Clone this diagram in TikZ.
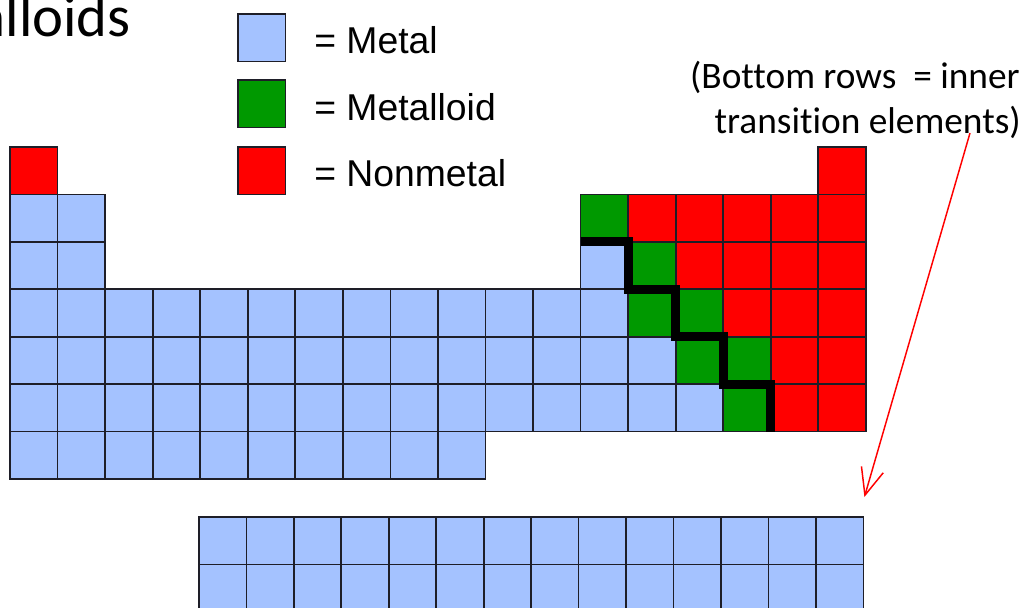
\documentclass[tikz,border=0pt]{standalone}
\usepackage{fontspec}
\newfontfamily\calfont[Ligatures=NoCommon]{Carlito}
\newfontfamily\arialfont{Liberation Sans}
\usetikzlibrary{arrows.meta,calc}
\definecolor{metalblue}{RGB}{164,194,255}
\definecolor{metalloidgreen}{RGB}{0,153,0}
\definecolor{nonmetalred}{RGB}{255,0,0}
\definecolor{celledge}{RGB}{30,30,40}
\newcommand{\elem}[3]{\node[#3] (c-#1-#2) at ({10+(#2-1)*47.55},{147+(#1-1)*47.43}) {};}

\begin{document}
\begin{tikzpicture}[x=0.75pt,y=-0.75pt,
  cell/.style={draw=celledge, line width=1.3pt, minimum width=35.66pt,
    minimum height=35.57pt, inner sep=0pt, outer sep=0pt, anchor=north west},
  metal/.style={cell, fill=metalblue},
  metalloid/.style={cell, fill=metalloidgreen},
  nonmetal/.style={cell, fill=nonmetalred},
  legendlabel/.style={font=\arialfont\fontsize{28}{32}\selectfont,
    anchor=base west, inner sep=0pt},
  note/.style={font=\calfont\fontsize{28}{33}\selectfont,
    anchor=base east, inner sep=0pt},
  divider/.style={line width=6.9pt, line join=miter},
  pointer/.style={draw=red, line width=1.1pt,
    -{Straight Barb[length=20pt,width=17pt,line width=1.1pt]}}
]
\clip (0,0) rectangle (1024,607);

% title
\node[font=\calfont\fontsize{44}{50}\selectfont, anchor=base east, inner sep=0pt]
  (title) at (131,36) {Metalloids};

% legend
\node[metal]     (keyM)  at (238,14)  {};
\node[metalloid] (keyML) at (238,80)  {};
\node[nonmetal]  (keyN)  at (238,147) {};
\node[legendlabel] (labM)  at (314,53)  {= Metal};
\node[legendlabel] (labML) at (314,120) {= Metalloid};
\node[legendlabel] (labN)  at (314,186) {= Nonmetal};

% note on the lower block
\node[note] (note1) at (1020,88)  {(Bottom rows\ \ = inner};
\node[note] (note2) at (1021,133) {transition elements)};

% main table
% period 1
\elem{1}{1}{nonmetal}
\elem{1}{18}{nonmetal}
% periods 2 and 3
\foreach \r in {2,3}{
  \foreach \c in {1,2}{\elem{\r}{\c}{metal}}
}
\elem{2}{13}{metalloid}
\foreach \c in {14,...,18}{\elem{2}{\c}{nonmetal}}
\elem{3}{13}{metal}
\elem{3}{14}{metalloid}
\foreach \c in {15,...,18}{\elem{3}{\c}{nonmetal}}
% period 4
\foreach \c in {1,...,13}{\elem{4}{\c}{metal}}
\foreach \c in {14,15}{\elem{4}{\c}{metalloid}}
\foreach \c in {16,17,18}{\elem{4}{\c}{nonmetal}}
% period 5
\foreach \c in {1,...,14}{\elem{5}{\c}{metal}}
\foreach \c in {15,16}{\elem{5}{\c}{metalloid}}
\foreach \c in {17,18}{\elem{5}{\c}{nonmetal}}
% period 6
\foreach \c in {1,...,15}{\elem{6}{\c}{metal}}
\elem{6}{16}{metalloid}
\foreach \c in {17,18}{\elem{6}{\c}{nonmetal}}
% period 7
\foreach \c in {1,...,10}{\elem{7}{\c}{metal}}

% inner transition block
\foreach \r in {1,2}{
  \foreach \c in {1,...,14}{
    \node[metal] (f-\r-\c) at ({199+(\c-1)*47.45},{517+(\r-1)*47.45}) {};
  }
}

% metal / nonmetal staircase
\draw[divider] (c-3-13.north west) -- (c-3-14.north west) -- (c-4-14.north west)
  -- (c-4-15.north west) -- (c-5-15.north west) -- (c-5-16.north west)
  -- (c-6-16.north west) -- (c-6-17.north west) -- (c-6-17.south west);

% pointer from the note to the lower block
\coordinate (from) at (970,133);
\coordinate (to) at ($(f-1-14.north east)+(1,-20)$);
\draw[pointer] (from) -- (to);
\end{tikzpicture}
\end{document}
